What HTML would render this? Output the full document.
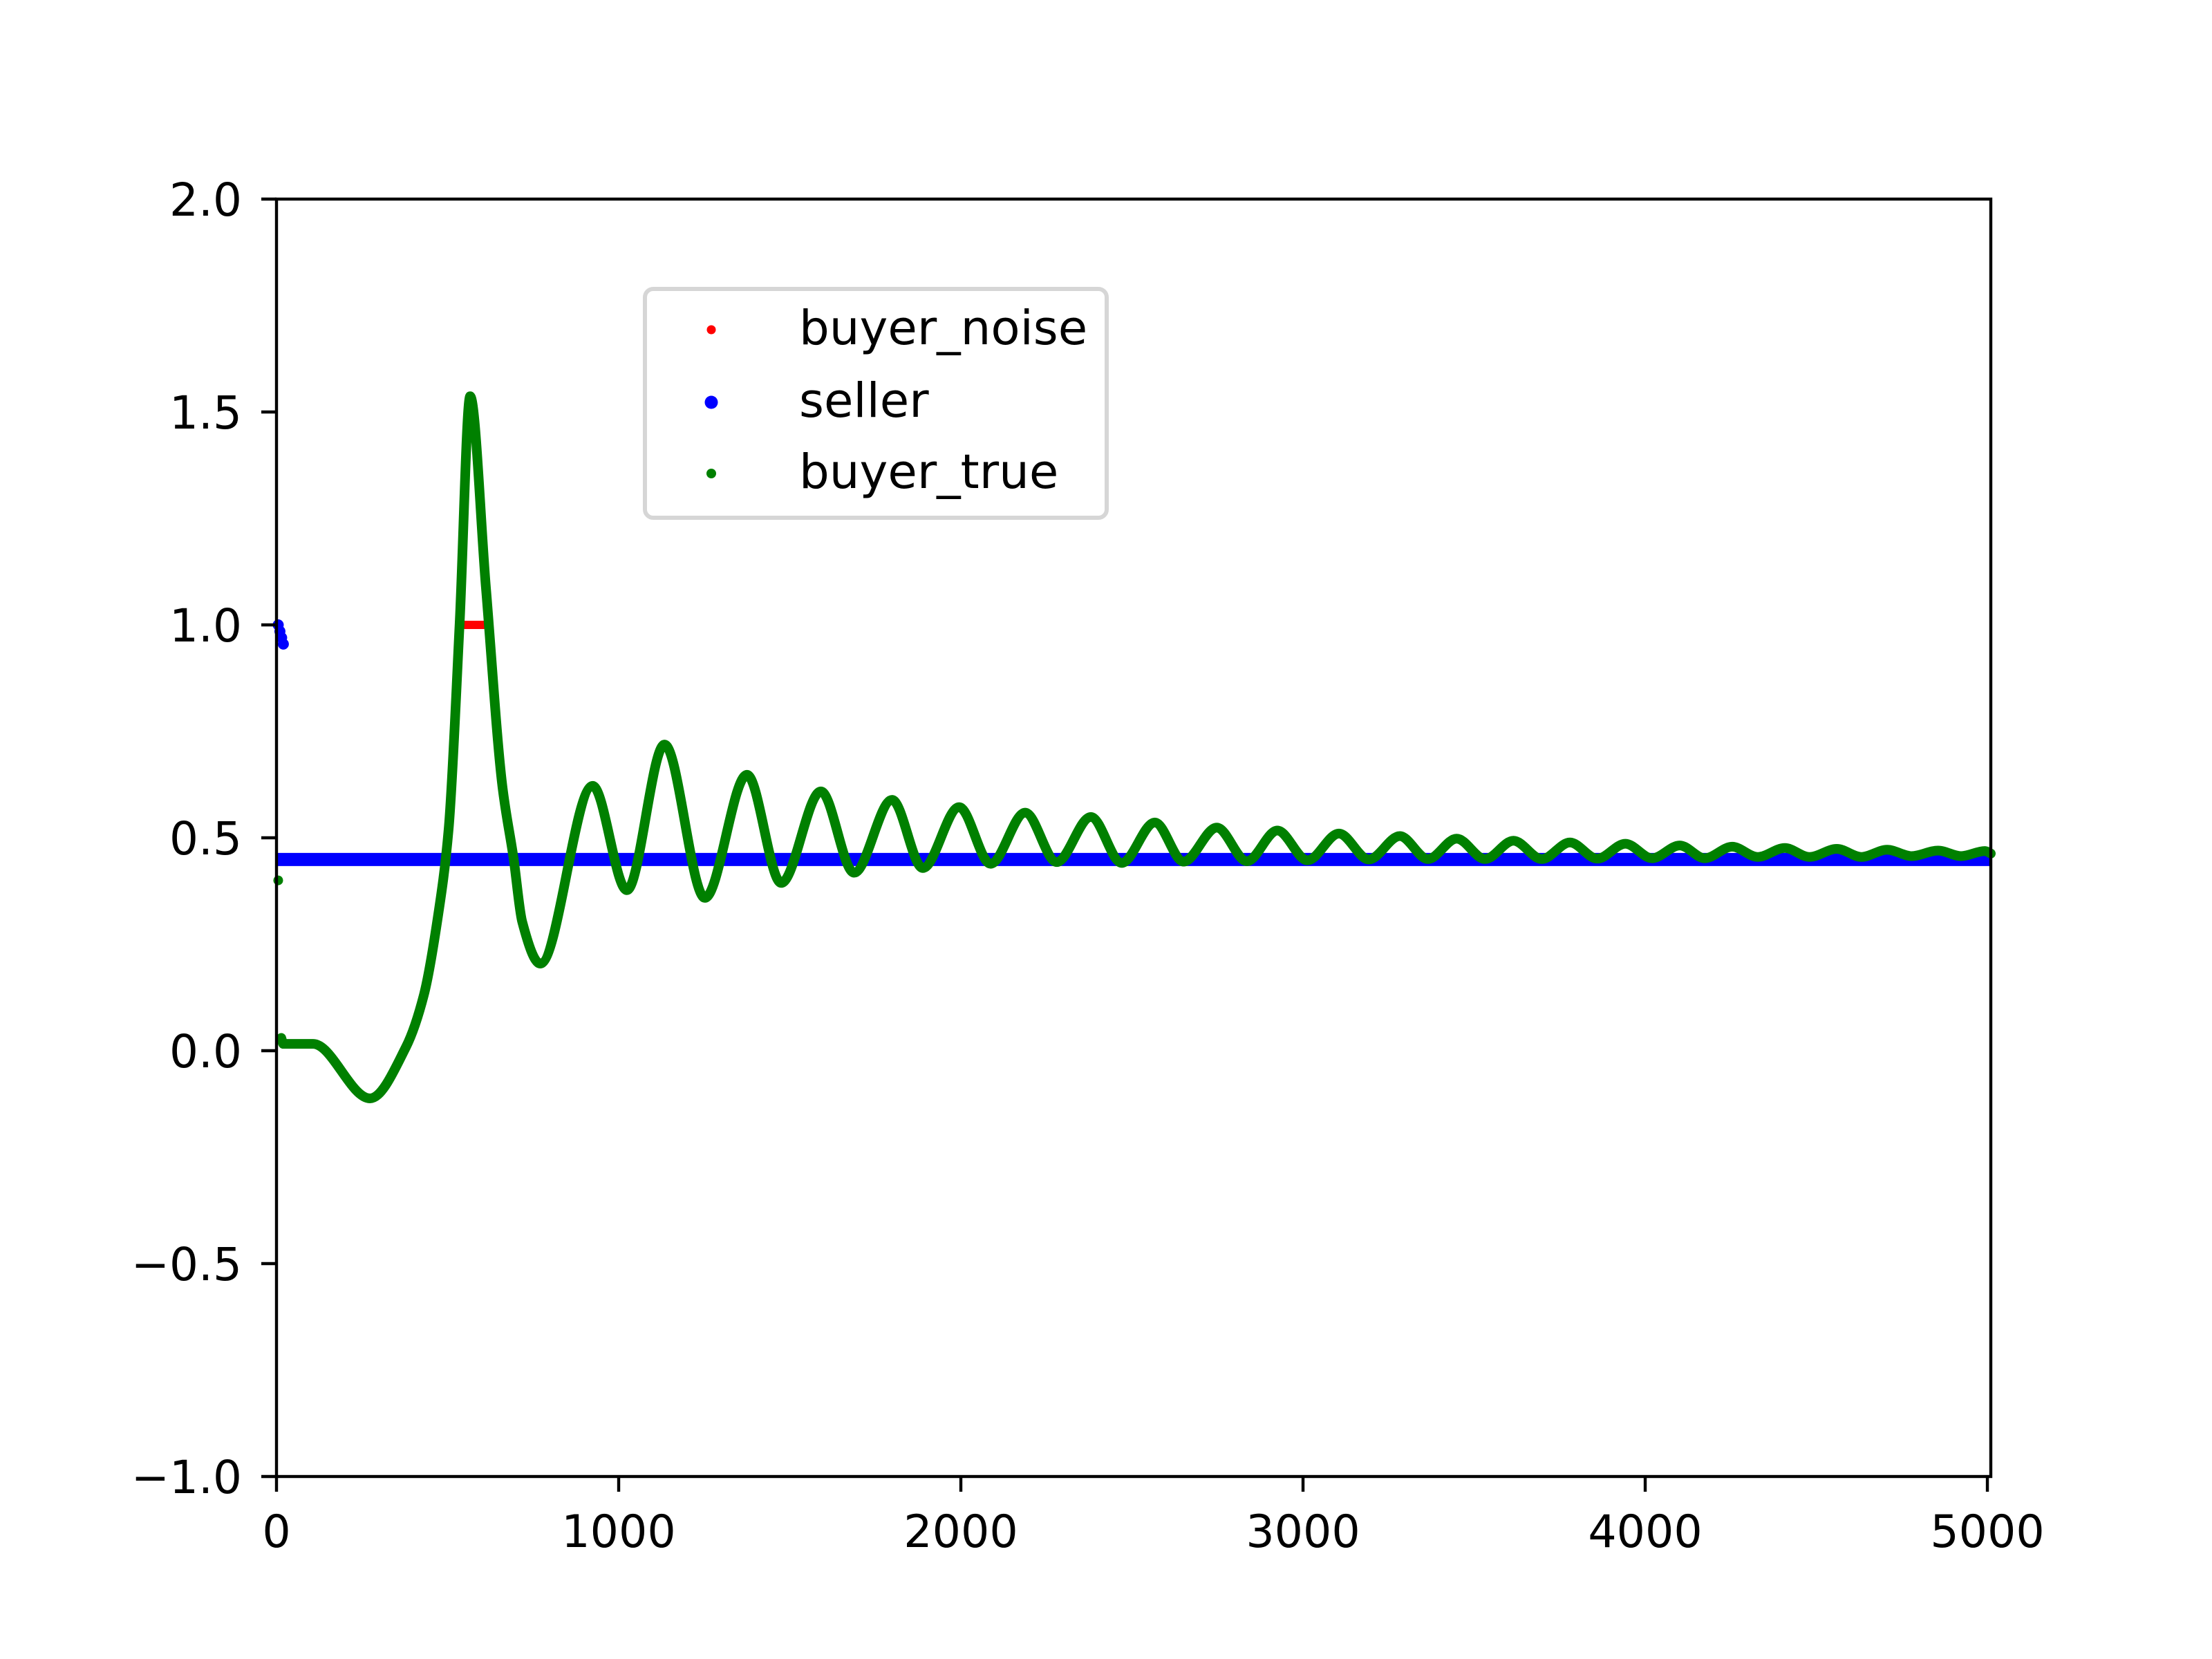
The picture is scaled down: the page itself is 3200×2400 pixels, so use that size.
<!DOCTYPE html>
<html><head><meta charset="utf-8"><style>
html,body{margin:0;padding:0;background:#fff;}
svg{display:block;}
text{font-family:"DejaVu Sans","Liberation Sans",sans-serif;font-size:65px;fill:#000;}
</style></head><body>
<svg id="chart" width="3200" height="2400" viewBox="0 0 3200 2400" xmlns="http://www.w3.org/2000/svg">
<rect x="0" y="0" width="3200" height="2400" fill="#fff"/>
<g id="plot"></g>
<g id="axes"></g>
<g id="legend"></g>
</svg>
<script>
const xTicks = [0, 1000, 2000, 3000, 4000, 5000];
const xTickLabels = ["0", "1000", "2000", "3000", "4000", "5000"];
const yTicks = [-1.0, -0.5, 0.0, 0.5, 1.0, 1.5, 2.0];
const yTickLabels = ["\u22121.0", "\u22120.5", "0.0", "0.5", "1.0", "1.5", "2.0"];
const trueX = [14, 20, 107, 273, 378, 431, 471, 503, 535, 566, 612, 660, 693, 718, 771, 924, 1024, 1134, 1252, 1375, 1475, 1591, 1688, 1799, 1889, 1995, 2087, 2188, 2280, 2380, 2470, 2567, 2651, 2748, 2836, 2925, 3013, 3105, 3192, 3283, 3365, 3449, 3532, 3615, 3698, 3780, 3860, 3942, 4020, 4101, 4174, 4254, 4329, 4408, 4480, 4560, 4632, 4707, 4779, 4856, 4923, 4993, 5010];
const trueY = [0.03, 0.016, 0.016, -0.112, 0.008, 0.132, 0.311, 0.52, 1.0, 1.537, 1.088, 0.622, 0.451, 0.303, 0.2045, 0.622, 0.377, 0.719, 0.359, 0.648, 0.394, 0.609, 0.418, 0.589, 0.429, 0.572, 0.439, 0.559, 0.443, 0.549, 0.441, 0.536, 0.444, 0.524, 0.445, 0.517, 0.447, 0.510, 0.449, 0.504, 0.450, 0.498, 0.450, 0.493, 0.450, 0.489, 0.451, 0.486, 0.452, 0.482, 0.452, 0.479, 0.455, 0.476, 0.455, 0.474, 0.455, 0.472, 0.457, 0.470, 0.457, 0.469, 0.463];
const sellerLevel = [0.449];
const sellerStartX = [5, 10, 15, 20];
const sellerStartY = [1.0, 0.985, 0.97, 0.955];
const noiseX = [525, 616];
const noiseY = [1.0, 1.0];
const outlierX = [5];
const outlierY = [0.4];
const legendLabels = ["buyer_noise", "seller", "buyer_true"];

const NS = "http://www.w3.org/2000/svg";
const L = 400, R = 2880, T = 288, B = 2136;
const X0 = 0, X1 = 5010, Y0 = -1, Y1 = 2;
function sx(v){ return L + (v - X0) / (X1 - X0) * (R - L); }
function sy(v){ return B - (v - Y0) / (Y1 - Y0) * (B - T); }
function mk(tag, attrs, parent){ const e = document.createElementNS(NS, tag); for (const k in attrs) e.setAttribute(k, attrs[k]); parent.appendChild(e); return e; }

const plot = document.getElementById('plot');
const axes = document.getElementById('axes');
const legend = document.getElementById('legend');

const sl = mk('line', {x1: sx(0), x2: sx(X1), y1: sy(sellerLevel[0]), y2: sy(sellerLevel[0]), stroke: '#0000ff', 'stroke-width': 19}, plot);


for (let i = 0; i < sellerStartX.length; i++) {
  const c = mk('circle', {cx: sx(sellerStartX[i]), cy: sy(sellerStartY[i]), r: 8, fill: '#0000ff'}, plot);
  
  
}
const nl = mk('line', {x1: sx(noiseX[0]), x2: sx(noiseX[1]), y1: sy(noiseY[0]), y2: sy(noiseY[1]), stroke: '#ff0000', 'stroke-width': 12}, plot);



const px = trueX.map(sx), py = trueY.map(sy);
const n = px.length;
const d = [], m = new Array(n).fill(0);
for (let i = 0; i < n - 1; i++) d.push((py[i+1] - py[i]) / (px[i+1] - px[i]));
m[0] = d[0]; m[n-1] = d[n-2];
for (let i = 1; i < n - 1; i++) {
  if (d[i-1] * d[i] <= 0) m[i] = 0;
  else { const h0 = px[i]-px[i-1], h1 = px[i+1]-px[i]; const w1 = 2*h1+h0, w2 = h1+2*h0; m[i] = (w1+w2)/(w1/d[i-1]+w2/d[i]); }
}
let path = 'M' + px[0] + ' ' + py[0];
for (let i = 0; i < n - 1; i++) {
  const h = px[i+1] - px[i];
  path += ' C' + (px[i]+h/3) + ' ' + (py[i]+m[i]*h/3) + ' ' + (px[i+1]-h/3) + ' ' + (py[i+1]-m[i+1]*h/3) + ' ' + px[i+1] + ' ' + py[i+1];
}
const gp = mk('path', {d: path, fill: 'none', stroke: '#008000', 'stroke-width': 14, 'stroke-linejoin': 'round', 'stroke-linecap': 'round'}, plot);


for (let i = 0; i < outlierX.length; i++) {
  const c = mk('circle', {cx: sx(outlierX[i]), cy: sy(outlierY[i]), r: 7, fill: '#008000'}, plot);
  
  
}

const fr = mk('rect', {x: L, y: T, width: R-L, height: B-T, fill: 'none', stroke: '#000', 'stroke-width': 4.4}, axes);


for (let i = 0; i < xTicks.length; i++) {
  const x = sx(xTicks[i]);
  const t = mk('line', {x1: x, x2: x, y1: B, y2: B + 22, stroke: '#000', 'stroke-width': 4.4}, axes);
  
  
  const lb = mk('text', {x: x, y: 2238, 'text-anchor': 'middle'}, axes);
  lb.textContent = xTickLabels[i];
  
  
}
for (let i = 0; i < yTicks.length; i++) {
  const y = sy(yTicks[i]);
  const t = mk('line', {x1: L - 22, x2: L, y1: y, y2: y, stroke: '#000', 'stroke-width': 4.4}, axes);
  
  
  const lb = mk('text', {x: 350, y: y + 24, 'text-anchor': 'end', style: 'font-size:66px'}, axes);
  lb.textContent = yTickLabels[i];
  
  
}

const lbx = mk('rect', {x: 933, y: 418, width: 668, height: 331, rx: 12, ry: 12, fill: '#fff', 'fill-opacity': 0.8, stroke: '#d6d6d6', 'stroke-width': 6}, legend);


const legColors = ['#ff0000', '#0000ff', '#008000'];
const legR = [6.5, 9.5, 7];
const legY = [477, 582, 685];
for (let i = 0; i < legendLabels.length; i++) {
  const c = mk('circle', {cx: 1029, cy: legY[i], r: legR[i], fill: legColors[i]}, legend);
  
  
  const t = mk('text', {x: 1156, y: legY[i] + 21, style: 'font-size:69px'}, legend);
  t.textContent = legendLabels[i];
  
  
}
</script>
</body></html>
